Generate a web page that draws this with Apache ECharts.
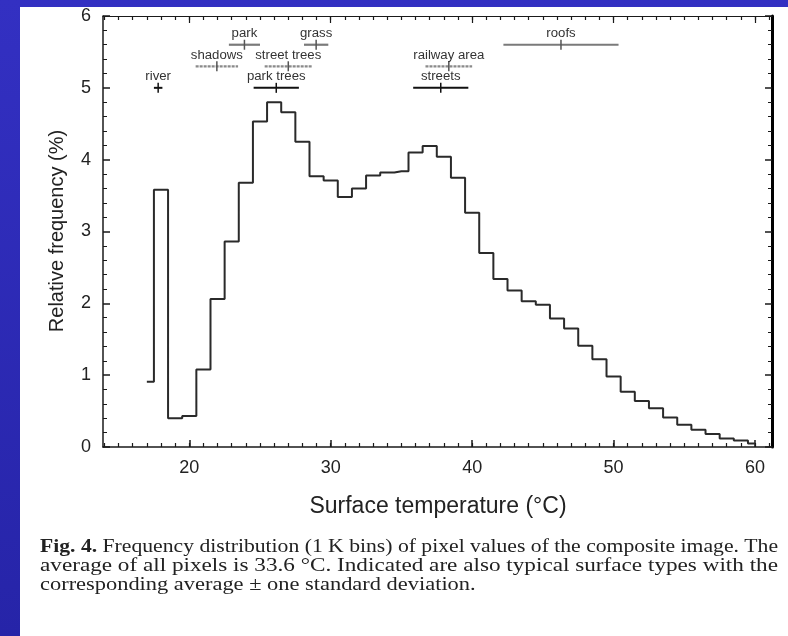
<!DOCTYPE html>
<html>
<head>
<meta charset="utf-8">
<script src="https://cdn.jsdelivr.net/npm/echarts@6/dist/echarts.min.js"></script>
<style>
  html, body { margin: 0; padding: 0; background: #ffffff; }
  #chart { width: 788px; height: 636px; }
</style>
</head>
<body>
<div id="chart"></div>
<script>
// Histogram: 1 K bins, centre temperature (°C) and relative frequency (%)
const binCenters = [17, 18, 19, 20, 21, 22, 23, 24, 25, 26, 27, 28, 29, 30, 31, 32, 33, 34, 35, 36, 37, 38,
  39, 40, 41, 42, 43, 44, 45, 46, 47, 48, 49, 50, 51, 52, 53, 54, 55, 56, 57, 58, 59, 60];
const frequency = [0.91, 3.58, 0.40, 0.43, 1.08, 2.06, 2.86, 3.68, 4.53, 4.80, 4.66, 4.25, 3.77, 3.71, 3.48,
  3.60, 3.78, 3.82, 3.84, 4.10, 4.19, 4.04, 3.75, 3.26, 2.70, 2.34, 2.18, 2.03, 1.98, 1.79, 1.65, 1.41,
  1.22, 0.98, 0.77, 0.64, 0.54, 0.41, 0.31, 0.24, 0.18, 0.12, 0.09, 0.05];

// Surface types: mean ± one standard deviation, drawn in three rows
const surfaceNames = ['river', 'shadows', 'park', 'park trees', 'street trees', 'grass', 'streets', 'railway area', 'roofs'];
const surfaceMeans = [17.8, 21.95, 23.9, 26.15, 27.0, 28.97, 37.78, 38.35, 46.28];
const surfaceSD    = [0.3, 1.5, 1.1, 1.6, 1.67, 0.86, 1.95, 1.65, 4.07];
const surfaceRow   = [5.0, 5.3, 5.6, 5.0, 5.3, 5.6, 5.0, 5.3, 5.6];

// Tick labels
const xTickLabels = [20, 30, 40, 50, 60];
const yTickLabels = [0, 1, 2, 3, 4, 5, 6];
const xMinorTicks = [14, 15, 16, 17, 18, 19, 20, 21, 22, 23, 24, 25, 26, 27, 28, 29, 30, 31, 32, 33, 34, 35,
  36, 37, 38, 39, 40, 41, 42, 43, 44, 45, 46, 47, 48, 49, 50, 51, 52, 53, 54, 55, 56, 57, 58, 59, 60, 61];

const caption = [
  ['Fig. 4.', ' Frequency distribution (1 K bins) of pixel values of the composite image. The'],
  ['', 'average of all pixels is 33.6 \u00B0C. Indicated are also typical surface types with the'],
  ['', 'corresponding average \u00B1 one standard deviation.']
];

const X_MIN = 13.9, X_MAX = 61.2;
const INK = '#1a1a1a';
const SANS = 'Liberation Sans, Arial, sans-serif';
const SERIF = 'Liberation Serif, Times New Roman, serif';

// text width helper for fitting the caption lines
const measureCtx = document.createElement('canvas').getContext('2d');
function textWidth(txt, font) { measureCtx.font = font; return measureCtx.measureText(txt).width; }

const CAP_SIZE = 19;
const capFont = CAP_SIZE + 'px ' + SERIF;
const capBold = 'bold ' + CAP_SIZE + 'px ' + SERIF;
const CAP_LEFT = 40, CAP_WIDTH = 738;
const capScales = caption.map(([b, r]) => CAP_WIDTH / (textWidth(b, capBold) + textWidth(r, capFont)));
capScales[2] = (capScales[0] + capScales[1]) / 2;
const capMids = [547, 566, 585];

const captionGraphics = caption.map(([b, r], i) => ({
  type: 'text',
  x: CAP_LEFT, y: capMids[i], scaleX: capScales[i],
  style: {
    text: (b ? '{b|' + b + '}' : '') + r,
    font: capFont, fill: '#222', verticalAlign: 'middle',
    rich: { b: { font: capBold, fill: '#222' } }
  }
}));

function tickAxis(pos, values, len, showLine, lineW) {
  return {
    type: 'value', position: pos, min: X_MIN, max: X_MAX,
    axisLine: { show: showLine, onZero: false, lineStyle: { color: INK, width: lineW } },
    axisTick: { show: true, inside: true, length: len, customValues: values, lineStyle: { color: INK, width: 1.2 } },
    axisLabel: { show: false },
    splitLine: { show: false }
  };
}

const chart = echarts.init(document.getElementById('chart'), null, { renderer: 'canvas' });

chart.setOption({
  animation: false,
  backgroundColor: '#ffffff',
  graphic: [
    { type: 'rect', z: -10, shape: { x: 0, y: 0, width: 788, height: 636 },
      style: { fill: new echarts.graphic.LinearGradient(0, 0, 0, 1, [
        { offset: 0, color: '#3330c2' }, { offset: 1, color: '#2624a8' }]) } },
    { type: 'rect', z: -9, shape: { x: 20, y: 7, width: 768, height: 629 }, style: { fill: '#ffffff' } },
    { type: 'text', x: 438, y: 507, style: { text: 'Surface temperature (\u00B0C)', font: '23px ' + SANS,
      fill: '#222', align: 'center', verticalAlign: 'middle' } },
    { type: 'text', x: 57, y: 231, rotation: Math.PI / 2, style: { text: 'Relative frequency (%)',
      font: '20px ' + SANS, fill: '#222', align: 'center', verticalAlign: 'middle' } },
    ...captionGraphics
  ],
  grid: { left: 103, top: 16, width: 669, height: 431, containLabel: false },
  xAxis: [
    {
      type: 'value', position: 'bottom', min: X_MIN, max: X_MAX,
      axisLine: { onZero: false, lineStyle: { color: INK, width: 1.5 } },
      axisTick: { inside: true, length: 7, customValues: xTickLabels, lineStyle: { color: INK, width: 1.5 } },
      axisLabel: { customValues: xTickLabels, color: '#222', fontSize: 18, fontFamily: SANS, margin: 12 },
      splitLine: { show: false }
    },
    tickAxis('bottom', xMinorTicks, 4, false, 1),
    tickAxis('top', xTickLabels, 7, true, 1.2),
    tickAxis('top', xMinorTicks, 4, false, 1)
  ],
  yAxis: [
    {
      type: 'value', position: 'left', min: 0, max: 6, interval: 1,
      axisLine: { show: true, lineStyle: { color: INK, width: 1.5 } },
      axisTick: { show: true, inside: true, length: 7, lineStyle: { color: INK, width: 1.5 } },
      minorTick: { show: true, splitNumber: 5, length: 4, lineStyle: { color: INK, width: 1 } },
      axisLabel: { color: '#222', fontSize: 18, fontFamily: SANS, margin: 12,
        formatter: v => (yTickLabels.includes(v) ? String(v) : '') },
      splitLine: { show: false }
    },
    {
      type: 'value', position: 'right', min: 0, max: 6, interval: 1,
      axisLine: { show: true, lineStyle: { color: '#000', width: 3 } },
      axisTick: { show: true, inside: true, length: 7, lineStyle: { color: INK, width: 1.5 } },
      minorTick: { show: true, splitNumber: 5, length: 4, lineStyle: { color: INK, width: 1 } },
      axisLabel: { show: false },
      splitLine: { show: false }
    }
  ],
  series: [
    {
      type: 'line', name: 'frequency', xAxisIndex: 0, yAxisIndex: 0,
      step: 'middle', symbol: 'none', silent: true,
      data: binCenters.map((x, i) => [x, frequency[i]]),
      lineStyle: { color: '#2a2a2a', width: 2 }
    },
    {
      type: 'custom', name: 'surface types', xAxisIndex: 0, yAxisIndex: 0, silent: true,
      encode: { x: 0, y: 1 },
      data: surfaceMeans.map((m, i) => [m, surfaceRow[i], surfaceSD[i]]),
      renderItem: function (params, api) {
        const m = api.value(0), row = api.value(1), sd = api.value(2);
        const lo = api.coord([m - sd, row]);
        const hi = api.coord([m + sd, row]);
        const c = api.coord([m, row]);
        let stroke = '#111', dash = null, w = 2;
        if (row > 5.45) { stroke = '#7a7a7a'; w = 2.2; }
        else if (row > 5.15) { stroke = '#8a8a8a'; dash = [3, 1]; w = 2.2; }
        return {
          type: 'group',
          children: [
            { type: 'line', shape: { x1: lo[0], y1: lo[1], x2: hi[0], y2: hi[1] },
              style: { stroke: stroke, lineWidth: w, lineDash: dash } },
            { type: 'line', shape: { x1: c[0], y1: c[1] - 5, x2: c[0], y2: c[1] + 5 },
              style: { stroke: row > 5.15 ? '#555' : '#111', lineWidth: 1.5 } },
            { type: 'text', x: c[0], y: c[1] - 11, scaleX: 1.1,
              style: { text: surfaceNames[params.dataIndex], font: '12px ' + SANS, fill: '#333',
                align: 'center', verticalAlign: 'middle' } }
          ]
        };
      }
    }
  ]
});
</script>
</body>
</html>
